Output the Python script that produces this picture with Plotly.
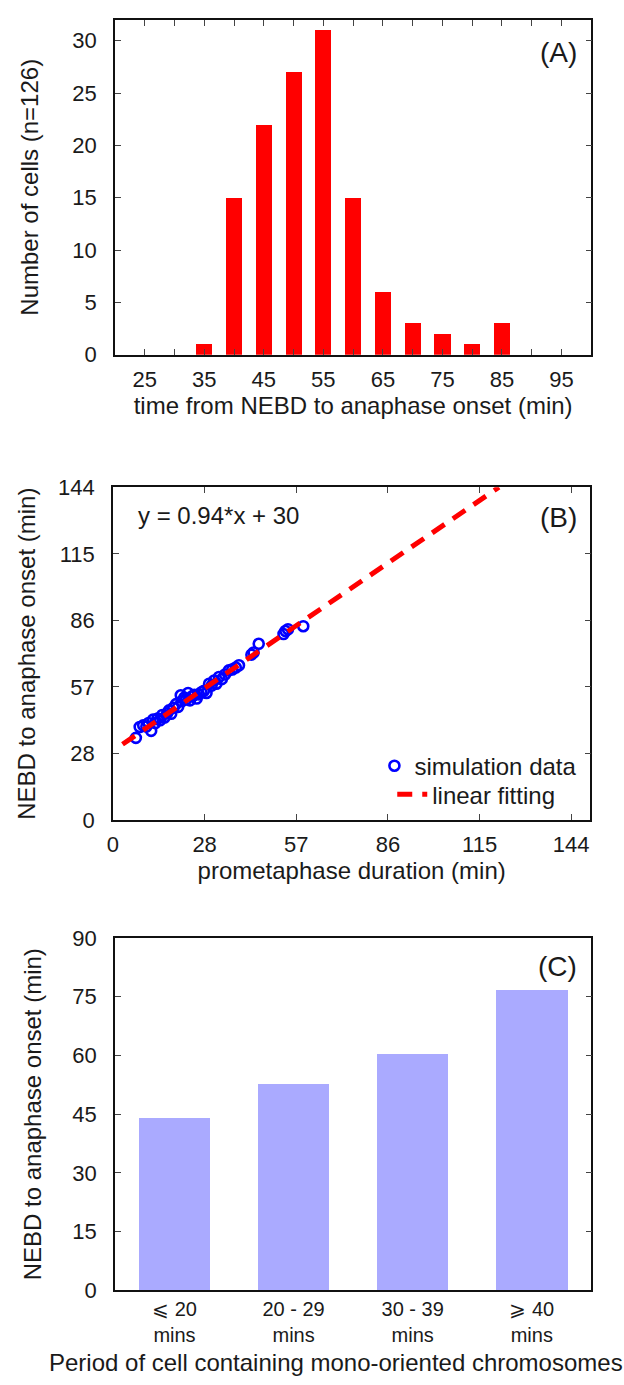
import plotly.graph_objects as go

# ---------- Panel A data ----------
hist_bins = [25, 30, 35, 40, 45, 50, 55, 60, 65, 70, 75, 80, 85, 90, 95]
hist_counts = [0, 0, 1, 15, 22, 27, 31, 15, 6, 3, 2, 1, 3, 0, 0]
a_tickvals = [25, 30, 35, 40, 45, 50, 55, 60, 65, 70, 75, 80, 85, 90, 95]
a_ticktext = ["25", "", "35", "", "45", "", "55", "", "65", "", "75", "", "85", "", "95"]

# ---------- Panel B data ----------
sim_x = [7.2, 8.4, 9.5, 10.5, 11.2, 12.0, 12.6, 13.3, 14.0, 14.8, 15.5, 16.2, 17.0,
         17.6, 18.3, 19.0, 19.8, 20.5, 21.3, 21.6, 22.4, 23.0, 23.6, 24.2, 24.9,
         25.6, 26.3, 27.0, 27.8, 28.6, 29.4, 30.2, 31.0, 31.8, 32.5, 33.3, 34.2,
         35.2, 36.4, 37.5, 38.6, 39.6, 43.5, 44.2, 45.8, 53.6, 54.2, 55.0, 59.8]
sim_y = [35.6, 40.3, 41.0, 40.5, 42.0, 38.6, 43.5, 42.0, 44.0, 43.2, 45.5, 44.4, 46.2,
         47.5, 46.0, 48.6, 50.2, 49.0, 54.0, 51.4, 53.0, 52.2, 55.0, 51.8, 53.6,
         54.2, 52.6, 54.4, 55.3, 56.0, 55.0, 59.0, 58.2, 60.4, 59.0, 61.9, 61.0,
         63.0, 64.8, 65.2, 66.0, 67.0, 71.6, 72.5, 76.3, 80.5, 81.8, 82.6, 83.9]
fit_x = [3.0, 121.3]
fit_slope = 0.94
fit_intercept = 30
fit_y = [fit_slope * v + fit_intercept for v in fit_x]
b_tickvals = [0, 28.8, 57.6, 86.4, 115.2, 144]
b_ticktext = ["0", "28", "57", "86", "115", "144"]

# ---------- Panel C data ----------
c_categories = ["⩽ 20<br>mins", "20 - 29<br>mins", "30 - 39<br>mins", "⩾ 40<br>mins"]
c_values = [44.0, 52.6, 60.5, 76.8]
c_tickvals = [0, 15, 30, 45, 60, 75, 90]

FONT = "Liberation Sans, Arial, sans-serif"
TXT = "#1a1a1a"
TICKF = dict(family=FONT, size=22, color=TXT)
TITLEF = dict(family=FONT, size=24, color=TXT)

fig = go.Figure()

fig.add_trace(go.Bar(x=hist_bins, y=hist_counts, width=2.7, marker_color="#ff0000",
                     marker_line_width=0, xaxis="x", yaxis="y", showlegend=False))

fig.add_trace(go.Scatter(x=sim_x, y=sim_y, mode="markers", name="simulation data",
                         marker=dict(symbol="circle-open", size=10, color="#0000ff",
                                     line=dict(width=2.6, color="#0000ff")),
                         xaxis="x2", yaxis="y2", legend="legend"))
fig.add_trace(go.Scatter(x=fit_x, y=fit_y, mode="lines", name="linear fitting",
                         line=dict(color="#ff0000", width=5, dash="15px,10px"),
                         xaxis="x2", yaxis="y2", legend="legend2"))

fig.add_trace(go.Bar(x=c_categories, y=c_values, width=0.6, marker_color="#aaaaff",
                     marker_line_width=0, xaxis="x3", yaxis="y3", showlegend=False))

common = dict(showline=True, linecolor="#111111", linewidth=1.5, mirror="ticks",
              ticks="inside", ticklen=6, tickcolor="#444444", showgrid=False,
              zeroline=False, tickfont=TICKF)

W, H = 624, 1385
def dom_y(top, bottom):
    return [1 - bottom / H, 1 - top / H]

legend_common = dict(xanchor="left", yanchor="middle", bgcolor="rgba(0,0,0,0)",
                     font=dict(family=FONT, size=24, color=TXT), borderwidth=0)

fig.update_layout(
    width=W, height=H, margin=dict(l=0, r=0, t=0, b=0),
    paper_bgcolor="white", plot_bgcolor="white",
    bargap=0,
    xaxis=dict(domain=[110 / W, 591 / W], range=[20, 100],
               tickvals=a_tickvals, ticktext=a_ticktext, anchor="y", ticklabelstandoff=4,
               title=dict(text="time from NEBD to anaphase onset (min)", font=TITLEF, standoff=4),
               **common),
    yaxis=dict(domain=dom_y(8, 349), range=[0, 32], tickvals=[0, 5, 10, 15, 20, 25, 30],
               anchor="x", ticklabelstandoff=12,
               title=dict(text="Number of cells (n=126)", font=TITLEF, standoff=27), **common),
    xaxis2=dict(domain=[108 / W, 590 / W], range=[0, 150], tickvals=b_tickvals,
                ticktext=b_ticktext, anchor="y2", ticklabelstandoff=4,
                title=dict(text="prometaphase duration (min)", font=TITLEF, standoff=4),
                **common),
    yaxis2=dict(domain=dom_y(484, 823), range=[0, 144], tickvals=b_tickvals,
                ticktext=b_ticktext, anchor="x2", ticklabelstandoff=12,
                title=dict(text="NEBD to anaphase onset (min)", font=TITLEF, standoff=16),
                **common),
    xaxis3=dict(domain=[110 / W, 591 / W], anchor="y3", showline=True, linecolor="#111111",
                linewidth=1.5, mirror=True, ticks="", showgrid=False,
                tickfont=dict(family=FONT, size=20, color=TXT), ticklabelstandoff=0),
    yaxis3=dict(domain=dom_y(943, 1302), range=[0, 90], tickvals=c_tickvals, anchor="x3",
                ticklabelstandoff=12,
                title=dict(text="NEBD to anaphase onset (min)", font=TITLEF, standoff=24),
                **common),
    legend=dict(x=372 / W, y=1 - 768 / H, **legend_common),
    legend2=dict(x=390 / W, y=1 - 797 / H, **legend_common),
    annotations=[
        dict(text="(A)", x=558 / W, y=1 - 41 / H, xref="paper", yref="paper",
             xanchor="center", yanchor="middle", showarrow=False,
             font=dict(family=FONT, size=28, color=TXT)),
        dict(text="(B)", x=558 / W, y=1 - 515 / H, xref="paper", yref="paper",
             xanchor="center", yanchor="middle", showarrow=False,
             font=dict(family=FONT, size=28, color=TXT)),
        dict(text="(C)", x=557 / W, y=1 - 972 / H, xref="paper", yref="paper",
             xanchor="center", yanchor="middle", showarrow=False,
             font=dict(family=FONT, size=28, color=TXT)),
        dict(text="y = 0.94*x + 30", x=131 / W, y=1 - 513 / H, xref="paper", yref="paper",
             xanchor="left", yanchor="middle", showarrow=False,
             font=dict(family=FONT, size=24, color=TXT)),
        dict(text="Period of cell containing mono-oriented chromosomes", x=333 / W,
             y=1 - 1375 / H, xref="paper", yref="paper", xanchor="center", yanchor="middle",
             showarrow=False, font=TITLEF),
    ],
)

fig.write_html("out.html", config={"displayModeBar": False},
               post_script="document.body.style.margin='0px';")
